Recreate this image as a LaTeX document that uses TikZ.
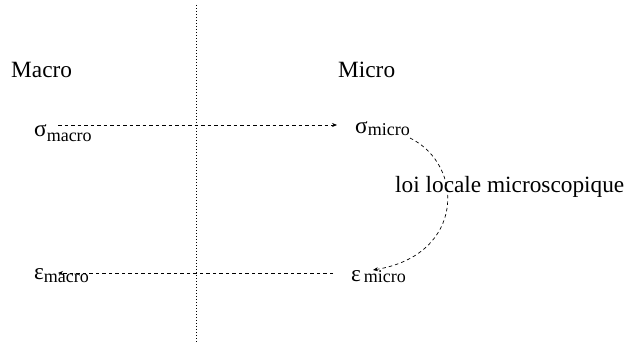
\documentclass[tikz,border=0pt]{standalone}
\usepackage{fontspec}
\setmainfont{Liberation Serif}
\usetikzlibrary{arrows.meta,positioning}

\newcommand{\subfont}{\fontsize{18}{20}\selectfont}

\begin{document}
\begin{tikzpicture}[
      x=1pt, y=-1pt,
      lbl/.style={inner sep=0pt, anchor=base west, font=\fontsize{23.3}{27}\selectfont},
      arr/.style={-{Stealth[length=5pt,width=4pt]}, line width=0.7pt,
                  dash pattern=on 3.5pt off 3pt},
      sep/.style={line width=0.8pt, dash pattern=on 1pt off 2pt}
    ]
    \useasboundingbox (0,0) rectangle (626,344);
    % separation macro / micro
    \coordinate (top) at (196,5);
    \coordinate (bot) at (196,344);
    \draw[sep] (top) -- (bot);
    % titles
    \node[lbl] (macro) at (11,78) {Macro};
    \node[lbl] (micro) at (338,78) {Micro};
    % quantities
    \node[lbl] (smacro) at (34,137) {σ\raisebox{-5pt}{\subfont macro}};
    \node[lbl] (smicro) at (355,134) {σ\raisebox{-2pt}{\subfont micro}};
    \node[lbl] (emicro) at (351,282) {ε\hspace{3pt}\raisebox{-1pt}{\subfont micro}};
    \node[lbl] (emacro) at (34,280) {ε\raisebox{-3pt}{\subfont macro}};
    \node[lbl] (loi) at (395,193) {loi locale microscopique};
    % connector ends
    \coordinate (s1) at (58,125);
    \coordinate (s2) at (337,125);
    \coordinate (c1) at (410,138);
    \coordinate (c2) at (373,270);
    \coordinate (e1) at (333,273);
    \coordinate (e2) at (58,273);
    \draw[arr] (s1) -- (s2);
    \draw[arr] (c1) .. controls (465,165) and (465,255) .. (c2);
    \draw[arr] (e1) -- (e2);
  \end{tikzpicture}
\end{document}
